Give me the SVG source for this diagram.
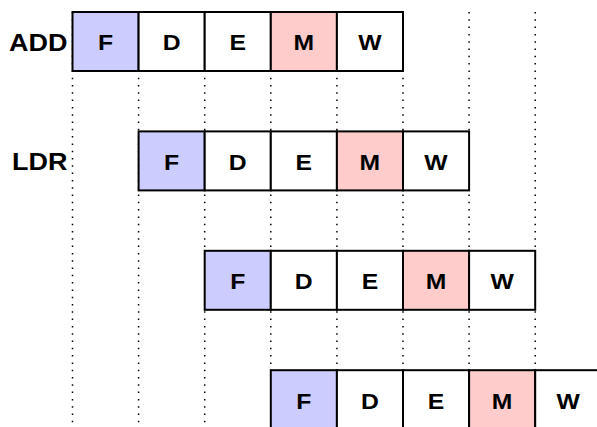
<svg xmlns="http://www.w3.org/2000/svg" width="597" height="427" viewBox="0 0 597 427">
<style>
.grid line{stroke:#000;stroke-width:1.5;stroke-dasharray:1.5 5.8;}
.c{stroke:#000;stroke-width:2;fill:#fff;}
.f{fill:#ccccff;}
.m{fill:#ffcccc;}
text{font-family:"Liberation Sans",Arial,sans-serif;font-weight:bold;fill:#000;transform-box:fill-box;}
.t{font-size:21.5px;text-anchor:middle;transform-origin:center;transform:scaleX(1.15);}
.lbl{font-size:24.5px;text-anchor:end;transform-origin:right center;transform:scaleX(1.1);}
</style>
<rect width="597" height="427" fill="#fff"/>
<g id="grid" class="grid">
<line x1="72.5" y1="12" x2="72.5" y2="427"/>
<line x1="138.6" y1="12" x2="138.6" y2="427"/>
<line x1="204.7" y1="12" x2="204.7" y2="427"/>
<line x1="270.8" y1="12" x2="270.8" y2="427"/>
<line x1="336.9" y1="12" x2="336.9" y2="427"/>
<line x1="403" y1="12" x2="403" y2="427"/>
<line x1="469.1" y1="12" x2="469.1" y2="427"/>
<line x1="535.2" y1="12" x2="535.2" y2="427"/>
</g>
<g id="row1">
<text class="lbl" x="67.5" y="51">ADD</text>
<rect class="c f" x="72.5" y="12" width="66.1" height="59"/>
<rect class="c" x="138.6" y="12" width="66.1" height="59"/>
<rect class="c" x="204.7" y="12" width="66.1" height="59"/>
<rect class="c m" x="270.8" y="12" width="66.1" height="59"/>
<rect class="c" x="336.9" y="12" width="66.1" height="59"/>
<text class="t" x="105.5" y="50.5">F</text>
<text class="t" x="171.6" y="50.5">D</text>
<text class="t" x="237.7" y="50.5">E</text>
<text class="t" x="303.8" y="50.5">M</text>
<text class="t" x="369.9" y="50.5">W</text>
</g>
<g id="row2">
<text class="lbl" x="67.5" y="170.4">LDR</text>
<rect class="c f" x="138.6" y="131.4" width="66.1" height="59"/>
<rect class="c" x="204.7" y="131.4" width="66.1" height="59"/>
<rect class="c" x="270.8" y="131.4" width="66.1" height="59"/>
<rect class="c m" x="336.9" y="131.4" width="66.1" height="59"/>
<rect class="c" x="403" y="131.4" width="66.1" height="59"/>
<text class="t" x="171.6" y="169.9">F</text>
<text class="t" x="237.7" y="169.9">D</text>
<text class="t" x="303.8" y="169.9">E</text>
<text class="t" x="369.9" y="169.9">M</text>
<text class="t" x="436" y="169.9">W</text>
</g>
<g id="row3">
<rect class="c f" x="204.7" y="250.8" width="66.1" height="59"/>
<rect class="c" x="270.8" y="250.8" width="66.1" height="59"/>
<rect class="c" x="336.9" y="250.8" width="66.1" height="59"/>
<rect class="c m" x="403" y="250.8" width="66.1" height="59"/>
<rect class="c" x="469.1" y="250.8" width="66.1" height="59"/>
<text class="t" x="237.7" y="289.3">F</text>
<text class="t" x="303.8" y="289.3">D</text>
<text class="t" x="369.9" y="289.3">E</text>
<text class="t" x="436" y="289.3">M</text>
<text class="t" x="502.1" y="289.3">W</text>
</g>
<g id="row4">
<rect class="c f" x="270.8" y="370.2" width="66.1" height="59"/>
<rect class="c" x="336.9" y="370.2" width="66.1" height="59"/>
<rect class="c" x="403" y="370.2" width="66.1" height="59"/>
<rect class="c m" x="469.1" y="370.2" width="66.1" height="59"/>
<rect class="c" x="535.2" y="370.2" width="66.1" height="59"/>
<text class="t" x="303.8" y="408.7">F</text>
<text class="t" x="369.9" y="408.7">D</text>
<text class="t" x="436" y="408.7">E</text>
<text class="t" x="502.1" y="408.7">M</text>
<text class="t" x="568.2" y="408.7">W</text>
</g>
</svg>
